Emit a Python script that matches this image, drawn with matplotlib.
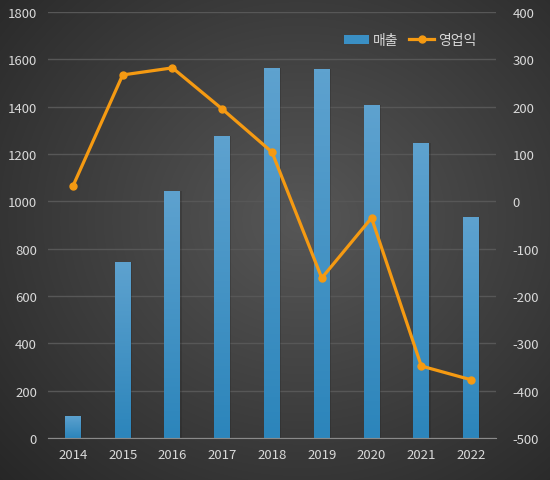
import numpy as np
import matplotlib.pyplot as plt
from matplotlib.lines import Line2D
from matplotlib.patches import Patch

plt.rcParams['font.family'] = ['Noto Sans CJK KR', 'DejaVu Sans']
plt.rcParams['axes.unicode_minus'] = False

years = ['2014', '2015', '2016', '2017', '2018', '2019', '2020', '2021', '2022']
sales = [95, 745, 1045, 1275, 1565, 1560, 1405, 1245, 935]   # 매출
profit = [32, 267, 282, 195, 104, -162, -35, -348, -377]      # 영업익

txt = '#d9d9d9'
fig = plt.figure(figsize=(5.5, 4.81), dpi=100)

# radial dark background
bg = fig.add_axes([0, 0, 1, 1], zorder=-10)
yy, xx = np.mgrid[0:481, 0:550]
r = np.sqrt(((xx - 300) / 420.0) ** 2 + ((yy - 220) / 380.0) ** 2)
shade = np.clip(0.34 - 0.19 * r, 0.15, 0.34)
bg.imshow(np.dstack([shade] * 3), aspect='auto', extent=[0, 1, 0, 1])
bg.axis('off')

ax = fig.add_axes([48 / 550, 1 - 439 / 481, 448 / 550, 426 / 481])
ax.patch.set_alpha(0)
x = np.arange(len(years))

bars = ax.bar(x, sales, width=0.32, color='#3a8fc4', zorder=2)
grad = np.linspace(0, 1, 100).reshape(-1, 1)
cmap = plt.matplotlib.colors.LinearSegmentedColormap.from_list('b', ['#2c85bb', '#5ea2cf'])
for b in bars:
    # soft shadow
    ax.bar(b.get_x() + b.get_width() / 2 + 0.015, b.get_height(), width=b.get_width() + 0.02,
           color='#1f1f1f', alpha=0.25, zorder=1.5)
    im = ax.imshow(grad, cmap=cmap, aspect='auto', origin='lower', zorder=2.1,
                   extent=[b.get_x(), b.get_x() + b.get_width(), 0, b.get_height()])
    im.set_clip_path(b)

ax.set_xlim(-0.5, len(years) - 0.5)
ax.set_ylim(0, 1800)
ax.set_yticks(range(0, 1801, 200))
ax.set_xticks(x)
ax.set_xticklabels(years)
ax.grid(axis='y', color='#575757', linewidth=1, zorder=0)
ax.set_axisbelow(True)
for s in ['top', 'right', 'left']:
    ax.spines[s].set_visible(False)
ax.spines['bottom'].set_color('#8a8a8a')
ax.tick_params(colors=txt, labelsize=9.5, length=0, pad=8)
ax.tick_params(axis='x', pad=7)

ax2 = ax.twinx()
ax2.plot(x, profit, color='#f59a12', linewidth=2.3, marker='o', markersize=5, zorder=5)
ax2.set_ylim(-500, 400)
ax2.set_yticks(range(-500, 401, 100))
for s in ax2.spines.values():
    s.set_visible(False)
ax2.tick_params(colors=txt, labelsize=9.5, length=0, pad=12)

handles = [Patch(facecolor='#3a8fc4', label='매출'),
           Line2D([0], [0], color='#f59a12', lw=2.3, marker='o', markersize=5, label='영업익')]
ax2.legend(handles=handles, loc='upper right', bbox_to_anchor=(0.985, 0.98), ncol=2,
           frameon=False, labelcolor=txt, fontsize=10, handlelength=1.8,
           handletextpad=0.3, columnspacing=0.8, handleheight=0.6)

fig.savefig('out.png', dpi=100)
